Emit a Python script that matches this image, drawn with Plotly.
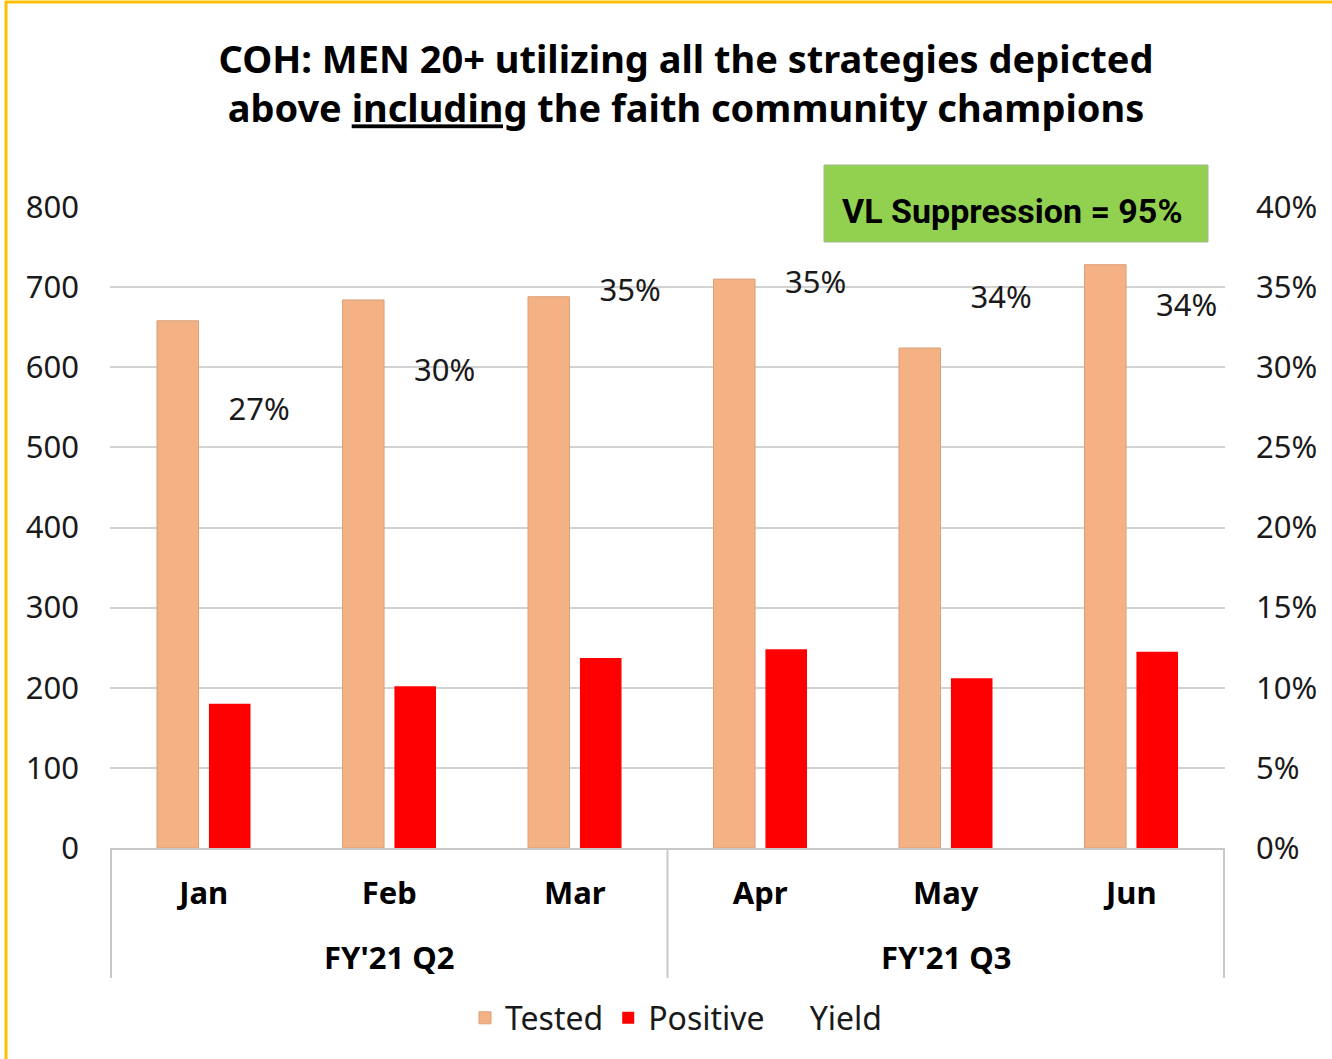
import plotly.graph_objects as go

months = ["Jan", "Feb", "Mar", "Apr", "May", "Jun"]
quarter_labels = ["FY'21 Q2", "FY'21 Q3"]
quarter_centers = [1, 4]          # category index at middle of each quarter
quarter_edges = [-0.5, 2.5, 5.5]  # category boundaries between quarters
tested = [658, 684, 688, 710, 624, 728]
positive = [180, 202, 237, 248, 212, 245]
yield_rate = [0.272, 0.296, 0.346, 0.351, 0.342, 0.337]

FONT = "Noto Sans, DejaVu Sans, sans-serif"

fig = go.Figure()
fig.add_trace(go.Bar(x=months, y=tested, name="Tested",
                     marker=dict(color="#F4B183", line=dict(color="#D9A07A", width=1))))
fig.add_trace(go.Bar(x=months, y=positive, name="Positive",
                     marker=dict(color="#FF0000", line=dict(width=0))))
fig.add_trace(go.Scatter(x=months, y=yield_rate, name="Yield", yaxis="y2",
                         mode="markers+text",
                         marker=dict(size=38, color="rgba(0,0,0,0)"),
                         texttemplate="%{y:.0%}", textposition="middle right",
                         textfont=dict(family=FONT, size=31, color="#1a1a1a"),
                         cliponaxis=False))

W, H = 1332, 1059
L, R, T, B = 110, 1225, 207, 848
def px(xp):
    return (xp - L) / (R - L)
def py(yp):
    return (B - yp) / (B - T)

shapes = [
    dict(type="rect", xref="paper", yref="paper", x0=px(824), x1=px(1208),
         y0=py(242), y1=py(165), fillcolor="#92D050", line=dict(color="#a0b890", width=1),
         layer="above"),
    dict(type="rect", xref="paper", yref="paper", x0=px(6), x1=px(1345),
         y0=py(1075), y1=py(2), line=dict(color="#FFC000", width=3),
         fillcolor="rgba(0,0,0,0)", layer="above"),
]
for e in quarter_edges:
    shapes.append(dict(type="line", xref="x", yref="paper", x0=e, x1=e,
                       y0=0, y1=py(978), line=dict(color="#c8c8c8", width=2), layer="above"))

annotations = [
    dict(text="<b>VL Suppression = 95%</b>", xref="paper", yref="paper",
         x=px(1012), y=py(211), xanchor="center", yanchor="middle", showarrow=False,
         font=dict(family="Liberation Sans Narrow, Roboto, sans-serif",
                   size=34, color="black")),
]
for q, c in zip(quarter_labels, quarter_centers):
    annotations.append(dict(text=q, xref="x", yref="paper", x=c, y=py(957),
                            xanchor="center", yanchor="middle", showarrow=False,
                            font=dict(family=FONT, size=31, color="black", weight="bold")))

fig.update_layout(
    width=W, height=H,
    margin=dict(l=L, r=W - R, t=T, b=H - B, autoexpand=False),
    paper_bgcolor="white", plot_bgcolor="white",
    barmode="group", bargap=0.44, bargroupgap=0.2,
    font=dict(family=FONT, color="#1a1a1a"),
    title=dict(text="<b>COH: MEN 20+ utilizing all the strategies depicted<br>above <u>including</u> the faith community champions</b>",
               x=0.515, xanchor="center", y=1 - 73 / H, yanchor="middle",
               font=dict(family=FONT, size=38, color="black")),
    xaxis=dict(type="category", showline=True, linecolor="#c8c8c8", linewidth=2,
               tickfont=dict(family=FONT, size=31, color="black", weight="bold"),
               showgrid=False, ticks="", ticklabelstandoff=17),
    yaxis=dict(range=[0, 800], dtick=100, showgrid=True, gridcolor="#d2d2d2", gridwidth=2,
               zeroline=False, tickfont=dict(family=FONT, size=31, color="#1a1a1a"),
               ticklabelstandoff=30),
    yaxis2=dict(range=[0, 0.4], dtick=0.05, tickformat=".0%", overlaying="y", side="right",
                showgrid=False, zeroline=False,
                tickfont=dict(family=FONT, size=31, color="#1a1a1a"),
                ticklabelstandoff=30),
    legend=dict(orientation="h", x=px(676), xanchor="center", y=py(1018), yanchor="middle",
                font=dict(family=FONT, size=32, color="#1a1a1a"), itemwidth=30,
                traceorder="normal"),
    shapes=shapes,
    annotations=annotations,
)

fig.write_html("out.html", config={"displayModeBar": False},
               post_script="document.body.style.margin='0';document.body.style.padding='0';")
